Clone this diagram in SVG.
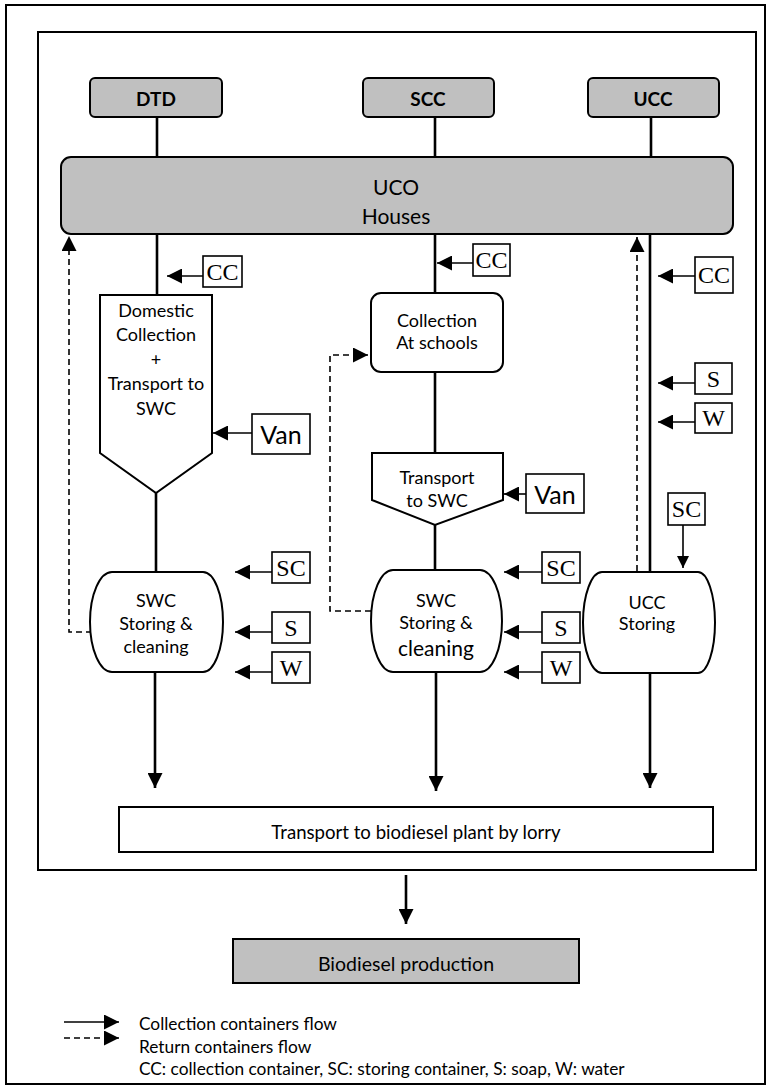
<svg xmlns="http://www.w3.org/2000/svg" width="770" height="1089" viewBox="0 0 770 1089">
<style>
.frame{fill:none;stroke:#000;stroke-width:2}
.gray{fill:#c0c0c0;stroke:#000;stroke-width:2}
.box{fill:#fff;stroke:#000;stroke-width:2}
.lbl{fill:#fff;stroke:#000;stroke-width:1.6}
.t{font-family:Lato,"Open Sans",sans-serif;font-size:18px;fill:#000;text-anchor:middle;dominant-baseline:central}
.b{font-weight:bold}
.s{font-family:"Liberation Serif",serif;font-size:24px;fill:#000;text-anchor:middle;dominant-baseline:central}
.lg{font-family:Lato,"Open Sans",sans-serif;font-size:17.3px;fill:#000;dominant-baseline:central}
.main{stroke:#000;stroke-width:2.6;fill:none}
.thin{stroke:#000;stroke-width:1.6;fill:none}
.dash{stroke:#000;stroke-width:1.6;fill:none;stroke-dasharray:6 4}
</style>
<defs>
<marker id="ah" viewBox="0 0 10 10" refX="10" refY="5" markerWidth="15" markerHeight="15" markerUnits="userSpaceOnUse" orient="auto">
<path d="M0,0 L10,5 L0,10 z" fill="#000"/>
</marker>
<marker id="ahs" viewBox="0 0 10 10" refX="10" refY="5" markerWidth="12" markerHeight="12" markerUnits="userSpaceOnUse" orient="auto">
<path d="M0,0 L10,5 L0,10 z" fill="#000"/>
</marker>
</defs>
<rect x="0" y="0" width="770" height="1089" fill="#fff"/>
<rect class="frame" x="6" y="5" width="759" height="1079"/>
<rect class="frame" x="38" y="32" width="718" height="838"/>

<g id="connectors">
<line class="main" x1="157" y1="117" x2="157" y2="157"/>
<line class="main" x1="435" y1="117" x2="435" y2="157"/>
<line class="main" x1="651" y1="117" x2="651" y2="157"/>
<line class="main" x1="157" y1="234" x2="157" y2="295"/>
<line class="main" x1="156" y1="493" x2="156" y2="572"/>
<line class="main" x1="155" y1="672" x2="155" y2="788" marker-end="url(#ah)"/>
<line class="main" x1="435" y1="234" x2="435" y2="293"/>
<line class="main" x1="435" y1="372" x2="435" y2="453"/>
<line class="main" x1="435" y1="525" x2="435" y2="570"/>
<line class="main" x1="436" y1="672" x2="436" y2="791" marker-end="url(#ah)"/>
<line class="main" x1="650" y1="234" x2="650" y2="572"/>
<line class="main" x1="650" y1="673" x2="650" y2="788" marker-end="url(#ah)"/>
<line class="main" x1="406" y1="875" x2="406" y2="924" marker-end="url(#ah)"/>
<polyline class="dash" points="92,632 69,632 69,236" marker-end="url(#ah)"/>
<polyline class="dash" points="371,611 330,611 330,355 368,355" marker-end="url(#ah)"/>
<line class="dash" x1="637" y1="571" x2="637" y2="237" marker-end="url(#ah)"/>
<line class="thin" x1="203" y1="276" x2="167" y2="276" marker-end="url(#ah)"/>
<line class="thin" x1="252" y1="433" x2="213" y2="433" marker-end="url(#ah)"/>
<line class="thin" x1="473" y1="263" x2="437" y2="263" marker-end="url(#ah)"/>
<line class="thin" x1="526" y1="494" x2="504" y2="494" marker-end="url(#ah)"/>
<line class="thin" x1="695" y1="276" x2="658" y2="276" marker-end="url(#ah)"/>
<line class="thin" x1="695" y1="383" x2="658" y2="383" marker-end="url(#ah)"/>
<line class="thin" x1="695" y1="422" x2="658" y2="422" marker-end="url(#ah)"/>
<line class="thin" x1="683" y1="525" x2="683" y2="568" marker-end="url(#ahs)"/>
<line class="thin" x1="272" y1="572" x2="235" y2="572" marker-end="url(#ah)"/>
<line class="thin" x1="272" y1="632" x2="235" y2="632" marker-end="url(#ah)"/>
<line class="thin" x1="272" y1="672" x2="235" y2="672" marker-end="url(#ah)"/>
<line class="thin" x1="542" y1="572" x2="504" y2="572" marker-end="url(#ah)"/>
<line class="thin" x1="542" y1="632" x2="504" y2="632" marker-end="url(#ah)"/>
<line class="thin" x1="542" y1="672" x2="504" y2="672" marker-end="url(#ah)"/>
</g>

<g id="dtd"><rect class="gray" x="90" y="78" width="132" height="39" rx="5"/><text class="t b" x="156" y="98" style="font-size:19px">DTD</text></g>
<g id="scc"><rect class="gray" x="363" y="78" width="131" height="39" rx="5"/><text class="t b" x="428" y="98" style="font-size:19px">SCC</text></g>
<g id="ucc"><rect class="gray" x="588" y="78" width="131" height="39" rx="5"/><text class="t b" x="653" y="98" style="font-size:19px">UCC</text></g>
<g id="uco"><rect class="gray" x="61" y="157" width="672" height="77" rx="10"/><text class="t" x="396" y="186" style="font-size:21px">UCO</text><text class="t" x="396" y="215" style="font-size:21px">Houses</text></g>

<g id="domestic">
<path class="box" d="M100,295 H212 V453 L156,493 L100,453 Z"/>
<text class="t" x="156" y="310">Domestic</text>
<text class="t" x="156" y="334">Collection</text>
<text class="t" x="156" y="359">+</text>
<text class="t" x="156" y="383">Transport to</text>
<text class="t" x="156" y="408">SWC</text>
</g>
<g id="schools"><rect class="box" x="371" y="293" width="132" height="79" rx="10"/><text class="t" x="437" y="320">Collection</text><text class="t" x="437" y="342">At schools</text></g>
<g id="transport-swc"><path class="box" d="M372,453 H503 V500 L435,525 L372,500 Z"/><text class="t" x="437" y="477">Transport</text><text class="t" x="437" y="500">to SWC</text></g>

<g id="swc-dtd"><path class="box" d="M112,572 H203 A20,50 0 0 1 203,672 H112 A22,50 0 0 1 112,572 Z"/>
<text class="t" x="156" y="600">SWC</text><text class="t" x="156" y="623">Storing &amp;</text><text class="t" x="156" y="646">cleaning</text></g>
<g id="swc-scc"><path class="box" d="M393,570 H480 A22,51 0 0 1 480,672 H393 A22,51 0 0 1 393,570 Z"/>
<text class="t" x="436" y="600">SWC</text><text class="t" x="436" y="622">Storing &amp;</text><text class="t" x="436" y="647" style="font-size:21px">cleaning</text></g>
<g id="ucc-storing"><path class="box" d="M602,572 H698 A17,50.5 0 0 1 698,673 H602 A19,50.5 0 0 1 602,572 Z"/>
<text class="t" x="647" y="602">UCC</text><text class="t" x="647" y="623">Storing</text></g>

<g id="lbl-cc1"><rect class="lbl" x="203" y="256" width="39" height="31"/><text class="s" x="222.5" y="272">CC</text></g>
<g id="lbl-van1"><rect class="lbl" x="252" y="414" width="58" height="40"/><text class="t" x="281" y="434" style="font-size:25px">Van</text></g>
<g id="lbl-cc2"><rect class="lbl" x="473" y="244" width="37" height="32"/><text class="s" x="491.5" y="260">CC</text></g>
<g id="lbl-van2"><rect class="lbl" x="526" y="474" width="58" height="39"/><text class="t" x="555" y="494" style="font-size:25px">Van</text></g>
<g id="lbl-cc3"><rect class="lbl" x="695" y="257" width="38" height="36"/><text class="s" x="714" y="275">CC</text></g>
<g id="lbl-s3"><rect class="lbl" x="695" y="363" width="37" height="31"/><text class="s" x="713.5" y="379">S</text></g>
<g id="lbl-w3"><rect class="lbl" x="695" y="403" width="37" height="30"/><text class="s" x="713.5" y="418">W</text></g>
<g id="lbl-sc3"><rect class="lbl" x="668" y="493" width="37" height="32"/><text class="s" x="686.5" y="509">SC</text></g>
<g id="lbl-sc1"><rect class="lbl" x="272" y="552" width="38" height="31"/><text class="s" x="291" y="568">SC</text></g>
<g id="lbl-s1"><rect class="lbl" x="272" y="612" width="38" height="31"/><text class="s" x="291" y="628">S</text></g>
<g id="lbl-w1"><rect class="lbl" x="272" y="652" width="38" height="31"/><text class="s" x="291" y="668">W</text></g>
<g id="lbl-sc2"><rect class="lbl" x="542" y="552" width="38" height="31"/><text class="s" x="561" y="568">SC</text></g>
<g id="lbl-s2"><rect class="lbl" x="542" y="612" width="38" height="31"/><text class="s" x="561" y="628">S</text></g>
<g id="lbl-w2"><rect class="lbl" x="542" y="652" width="38" height="31"/><text class="s" x="561" y="668">W</text></g>

<g id="lorry"><rect class="box" x="119" y="807" width="594" height="45"/><text class="t" x="416" y="832" style="font-size:18.6px">Transport to biodiesel plant by lorry</text></g>
<g id="biodiesel"><rect class="gray" x="233" y="939" width="346" height="44"/><text class="t" x="406" y="963" style="font-size:19.5px">Biodiesel production</text></g>

<g id="legend">
<line class="thin" x1="64" y1="1022" x2="119" y2="1022" marker-end="url(#ah)"/>
<line class="dash" x1="64" y1="1038" x2="119" y2="1038" marker-end="url(#ah)"/>
<text class="lg" x="139" y="1023">Collection containers flow</text>
<text class="lg" x="139" y="1046">Return containers flow</text>
<text class="lg" x="139" y="1068">CC: collection container, SC: storing container, S: soap, W: water</text>
</g>
</svg>
